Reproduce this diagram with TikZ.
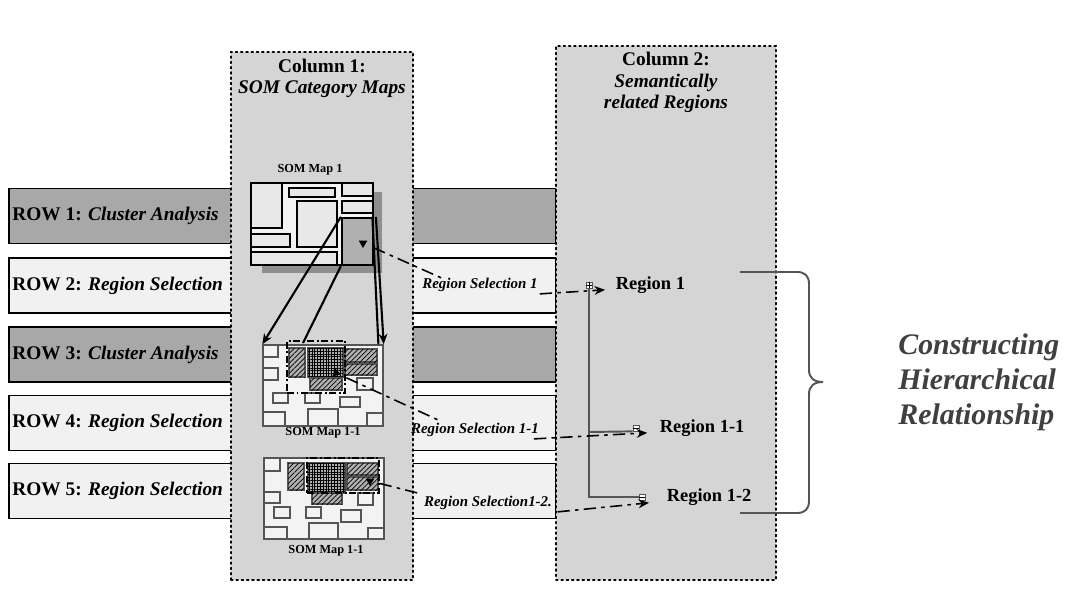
\documentclass[tikz,border=0pt]{standalone}
\usepackage{fontspec}
\setmainfont{Liberation Serif}
\usetikzlibrary{arrows.meta, positioning, shapes.geometric, patterns.meta}

\definecolor{rowdark}{HTML}{A8A8A8}
\definecolor{rowlight}{HTML}{F1F1F1}
\definecolor{colgray}{HTML}{D5D5D5}
\definecolor{mapfill}{HTML}{F3F3F3}
\definecolor{blockfill}{HTML}{E8E8E8}
\definecolor{selgray}{HTML}{B0B0B0}
\definecolor{shadowgray}{HTML}{8E8E8E}
\definecolor{treegray}{HTML}{555555}
\definecolor{textgray}{HTML}{404040}

\tikzset{
  rowbox/.style={draw, line width=1.1pt, minimum width=10.94cm,
                 minimum height=1.1cm, inner sep=0pt},
  rowlabel/.style={font=\fontsize{11}{13}\selectfont\bfseries, inner sep=0pt},
  colbox/.style={draw, dotted, line width=1pt, line cap=round, fill=colgray, inner sep=0pt},
  coltitle/.style={font=\fontsize{11}{12}\selectfont\bfseries, align=center, inner sep=0pt},
  maplabel/.style={font=\fontsize{7}{8}\selectfont\bfseries, inner sep=0pt},
  bigblock/.style={draw, line width=1.3pt, fill=blockfill},
  cellbox/.style={draw=treegray, line width=0.6pt, fill=mapfill},
  hatchbox/.style={draw=treegray, line width=0.6pt, fill=selgray,
                   postaction={pattern={Lines[angle=45, distance=2pt, line width=0.4pt]}}},
  checkbox/.style={draw=treegray, line width=0.6pt, fill=selgray,
                   postaction={pattern={Hatch[angle=0, distance=1.6pt, line width=0.5pt]}}},
  selframe/.style={draw, line width=0.8pt, dash pattern=on 4pt off 1.5pt on 1pt off 1.5pt},
  marker/.style={regular polygon, regular polygon sides=3, shape border rotate=180,
                 fill=black, inner sep=0pt, minimum size=0.2cm},
  selline/.style={line width=0.9pt, dash pattern=on 7pt off 3pt on 2pt off 3pt},
  maparrow/.style={line width=1.2pt},
  selabel/.style={font=\fontsize{8.5}{10}\selectfont\bfseries\itshape, inner sep=1pt},
  regionlabel/.style={font=\fontsize{10.5}{12}\selectfont\bfseries, inner sep=2pt},
  toggle/.style={draw=treegray, fill=white, line width=0.4pt, inner sep=0pt,
                 minimum size=0.12cm},
  treeline/.style={draw=treegray, line width=1.1pt},
}

\begin{document}
\begin{tikzpicture}[x=0.02cm, y=-0.02cm, >={Stealth[length=6pt, width=5pt]}]
  \useasboundingbox[fill=white] (0,0) rectangle (1066,593);

  % rows
  \node[rowbox, fill=rowdark]  (row1) at (282.5,216) {};
  \node[rowbox, fill=rowlight] (row2) at (282.5,285.5) {};
  \node[rowbox, fill=rowdark]  (row3) at (282.5,354.5) {};
  \node[rowbox, fill=rowlight] (row4) at (282.5,423) {};
  \node[rowbox, fill=rowlight] (row5) at (282.5,491) {};
  \node[rowlabel, right=2.3pt of row1.west] (row1text) {ROW 1: \textit{Cluster Analysis}};
  \node[rowlabel, right=2.3pt of row2.west] (row2text) {ROW 2: \textit{Region Selection}};
  \node[rowlabel, right=2.3pt of row3.west] (row3text) {ROW 3: \textit{Cluster Analysis}};
  \node[rowlabel, right=2.3pt of row4.west] (row4text) {ROW 4: \textit{Region Selection}};
  \node[rowlabel, right=2.3pt of row5.west] (row5text) {ROW 5: \textit{Region Selection}};

  % columns
  \node[colbox, minimum width=3.64cm, minimum height=10.56cm] (col1) at (322,316) {};
  \node[colbox, minimum width=4.4cm, minimum height=10.68cm] (col2) at (666,313) {};
  \node[coltitle, below=4.5pt of col1.north] (col1title) {Column 1:\\\textit{SOM Category Maps}};
  \node[coltitle, below=4pt of col2.north] (col2title) {Column 2:\\\textit{Semantically}\\\textit{related Regions}};

  % SOM map 1
  \node[maplabel] (map1label) at (310,170) {SOM Map 1};
  \fill[shadowgray] (262,192) rectangle (382,273);
  \node[draw, line width=1.3pt, fill=mapfill, inner sep=0pt,
        minimum width=2.44cm, minimum height=1.64cm] (map1) at (312,224) {};
  \draw[bigblock] (251,183) rectangle (282,228);
  \draw[bigblock] (289,188) rectangle (335,197);
  \draw[bigblock] (342,183) rectangle (373,196);
  \draw[bigblock] (342,201) rectangle (373,213);
  \draw[bigblock] (297,201) rectangle (337,247);
  \draw[bigblock] (251,234) rectangle (290,247);
  \draw[bigblock] (251,252) rectangle (337,265);
  \node[draw, line width=1.3pt, fill=selgray, inner sep=0pt,
        minimum width=0.62cm, minimum height=0.94cm] (sel1) at (357.5,241.5) {};
  \node[marker] (m1) at (363,243) {};

  % SOM map 1-1
  \node[draw=treegray, line width=0.8pt, fill=mapfill, inner sep=0pt,
        minimum width=2.4cm, minimum height=1.62cm] (map11) at (323,385.5) {};
  \foreach \xa/\ya/\xb/\yb in {263/345/278/357, 263/368/278/380, 273/393/288/403,
      305/393/320/403, 340/397/360/407, 357/378/373/390, 263/412/285/426,
      308/409/338/426, 367/413/383/426}
    \draw[cellbox] (\xa,\ya) rectangle (\xb,\yb);
  \draw[hatchbox] (289,348) rectangle (305,377);
  \draw[checkbox] (308,348) rectangle (343,377);
  \draw[hatchbox] (345,349) rectangle (377,362);
  \draw[hatchbox] (345,364) rectangle (377,375);
  \draw[hatchbox] (310,378) rectangle (342,390);
  \node[selframe, inner sep=0pt, minimum width=1.16cm, minimum height=1.04cm] (box11) at (316,367) {};
  \node[marker, shape border rotate=135] (m11) at (336,373) {};
  \node[maplabel] (map11label) at (323,433) {SOM Map 1-1};

  % SOM map 1-2
  \node[draw=treegray, line width=0.8pt, fill=mapfill, inner sep=0pt,
        minimum width=2.4cm, minimum height=1.62cm] (map12) at (324,498.5) {};
  \foreach \xa/\ya/\xb/\yb in {264/458/280/471, 264/492/280/503, 274/507/290/518,
      306/507/321/518, 341/510/361/522, 358/493/373/505, 264/527/287/539,
      309/523/338/539, 368/528/384/539}
    \draw[cellbox] (\xa,\ya) rectangle (\xb,\yb);
  \draw[hatchbox] (288,463) rectangle (304,490);
  \draw[checkbox] (308,463) rectangle (345,493);
  \draw[hatchbox] (347,463) rectangle (378,475);
  \draw[hatchbox] (347,477) rectangle (378,490);
  \draw[hatchbox] (312,493) rectangle (342,504);
  \node[selframe, inner sep=0pt, minimum width=1.44cm, minimum height=0.7cm] (box12) at (343,475.5) {};
  \node[marker] (m12) at (370,481) {};
  \node[maplabel] (map12label) at (326,551) {SOM Map 1-1};

  % map 1 -> map 1-1
  \coordinate (b11) at (303,343);
  \draw[maparrow, ->] (sel1.north west) -- (map11.north west);
  \draw[maparrow] (sel1.south west) -- (b11);
  \draw[maparrow] ([xshift=-1pt]sel1.north east) -- ([xshift=-3pt]map11.north east);
  \draw[maparrow, ->] ([xshift=1pt]sel1.north east) -- (map11.north east);

  % region selections
  \node[selabel] (rs1) at (480,285) {Region Selection 1};
  \node[selabel] (rs11) at (475,430) {Region Selection 1-1};
  \node[selabel] (rs12) at (488,503) {Region Selection1-2.};

  % region tree
  \node[regionlabel, anchor=west] (reg1) at (612,285) {Region 1};
  \node[regionlabel, anchor=west] (reg11) at (656,428) {Region 1-1};
  \node[regionlabel, anchor=west] (reg12) at (663,497) {Region 1-2};
  \node[toggle] (tg1) at (589,285) {};
  \node[toggle] (tg11) at (636,428) {};
  \node[toggle] (tg12) at (642,497) {};
  \draw[treeline] (tg1.south) |- (tg12.west);
  \draw[treeline] (tg1 |- 0,432) -- (tg11.south west);
  \draw[line width=0.4pt] (tg1.west) -- (tg1.east) (tg1.north) -- (tg1.south);
  \draw[line width=0.4pt] (tg11.west) -- (tg11.east);
  \draw[line width=0.4pt] (tg12.west) -- (tg12.east);

  \draw[selline, shorten <=5pt] (m1) -- ([xshift=12pt,yshift=-1pt]rs1.north west);
  \draw[selline, ->, shorten >=4pt] (rs1.south east) -- (reg1.base west);
  \draw[selline, shorten <=4pt] (m11) -- ([xshift=18pt]rs11.north west);
  \draw[selline, ->, shorten >=5pt] ([xshift=-4pt]rs11.south east) -- (reg11.base west);
  \draw[selline, shorten <=4pt] (m12) -- (rs12.north west);
  \draw[selline, ->, shorten >=8pt] ([xshift=2pt]rs12.south east) -- (reg12.base west);

  % brace
  \draw[treegray, line width=1.1pt]
    (740,272) -- (797,272) .. controls (805,272) and (809,276) .. (809,284)
    -- (809,370) .. controls (809,378) and (814,382) .. (823,382)
    .. controls (814,382) and (809,386) .. (809,394)
    -- (809,501) .. controls (809,509) and (805,513) .. (797,513) -- (740,513);
  \node[anchor=west, align=left, text=textgray, inner sep=0pt,
        font=\fontsize{17}{20}\selectfont\bfseries\itshape] (hier) at (898,382)
        {Constructing\\Hierarchical\\Relationship};
\end{tikzpicture}
\end{document}
